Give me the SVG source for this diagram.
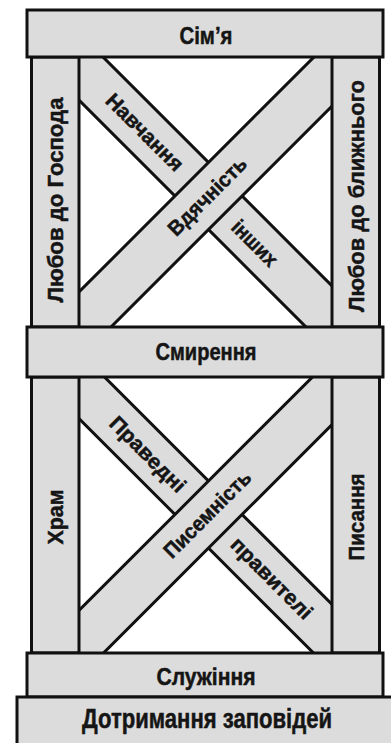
<svg xmlns="http://www.w3.org/2000/svg" width="391" height="743" viewBox="0 0 391 743">
<style>
.b{fill:#dcdcdc;stroke:#111;stroke-width:3}
.t{font-family:"Liberation Sans",Arial,sans-serif;font-weight:bold;fill:#151515;stroke:#151515;stroke-width:0.5;text-anchor:middle;dominant-baseline:central}
.h{font-size:24px}
.v{font-size:22px}
.d{font-size:21px}
</style>
<defs>
<clipPath id="cu"><rect x="79" y="57" width="253" height="270"/></clipPath>
<clipPath id="cl"><rect x="79" y="377" width="253" height="276"/></clipPath>
</defs>
<rect width="391" height="743" fill="#fff"/>
<g id="connectors">
<g clip-path="url(#cu)">
<g id="navchannya"><rect class="b" x="-260" y="-23.7" width="520" height="47.4" transform="translate(208.5 196) rotate(45)"/></g>
<g id="vdyachnist"><rect class="b" x="-260" y="-23.7" width="520" height="47.4" transform="translate(208.5 196) rotate(-45)"/></g>
</g>
<g clip-path="url(#cl)">
<g id="pravedni"><rect class="b" x="-260" y="-23.7" width="520" height="47.4" transform="translate(208.5 514.5) rotate(45)"/></g>
<g id="pysemnist"><rect class="b" x="-260" y="-23.7" width="520" height="47.4" transform="translate(208.5 514.5) rotate(-45)"/></g>
</g>
</g>
<g id="lyubov-gospod"><rect class="b" x="31.5" y="57" width="47.5" height="270"/></g>
<g id="lyubov-blyzhn"><rect class="b" x="332" y="57" width="47.5" height="270"/></g>
<g id="hram"><rect class="b" x="31.5" y="377" width="47.5" height="276"/></g>
<g id="pysannya"><rect class="b" x="332" y="377" width="47.5" height="276"/></g>
<g id="simya"><rect class="b" x="27" y="10" width="356" height="47"/></g>
<g id="smyrennya"><rect class="b" x="27" y="327" width="356" height="50"/></g>
<g id="sluzhinnya"><rect class="b" x="27" y="653" width="356" height="44"/></g>
<g id="zapovidi"><rect class="b" x="17" y="697" width="380" height="60"/></g>
<g id="labels">
<text class="t h" x="206" y="35" textLength="53" lengthAdjust="spacingAndGlyphs">Сім’я</text>
<text class="t h" x="206" y="351" textLength="101" lengthAdjust="spacingAndGlyphs">Смирення</text>
<text class="t h" x="206" y="676" textLength="99" lengthAdjust="spacingAndGlyphs">Служіння</text>
<text class="t h" x="207" y="719" style="font-size:27px" textLength="250" lengthAdjust="spacingAndGlyphs">Дотримання заповідей</text>
<text class="t v" transform="translate(55 200) rotate(-90)" textLength="205" lengthAdjust="spacingAndGlyphs">Любов до Господа</text>
<text class="t v" transform="translate(356 196) rotate(-90)" textLength="232" lengthAdjust="spacingAndGlyphs">Любов до ближнього</text>
<text class="t v" transform="translate(55 517) rotate(-90)" textLength="55" lengthAdjust="spacingAndGlyphs">Храм</text>
<text class="t v" transform="translate(356 517) rotate(-90)" textLength="87" lengthAdjust="spacingAndGlyphs">Писання</text>
<text class="t d" transform="translate(145 132) rotate(45)" textLength="100" lengthAdjust="spacingAndGlyphs">Навчання</text>
<text class="t d" transform="translate(255 243) rotate(45)" textLength="56" lengthAdjust="spacingAndGlyphs">інших</text>
<text class="t d" transform="translate(207 196) rotate(-45)" textLength="102" lengthAdjust="spacingAndGlyphs">Вдячність</text>
<text class="t d" transform="translate(148 454) rotate(45)" textLength="98" lengthAdjust="spacingAndGlyphs">Праведні</text>
<text class="t d" transform="translate(207 514) rotate(-45)" textLength="114" lengthAdjust="spacingAndGlyphs">Писемність</text>
<text class="t d" transform="translate(272 578) rotate(45)" textLength="106" lengthAdjust="spacingAndGlyphs">правителі</text>
</g>
</svg>
